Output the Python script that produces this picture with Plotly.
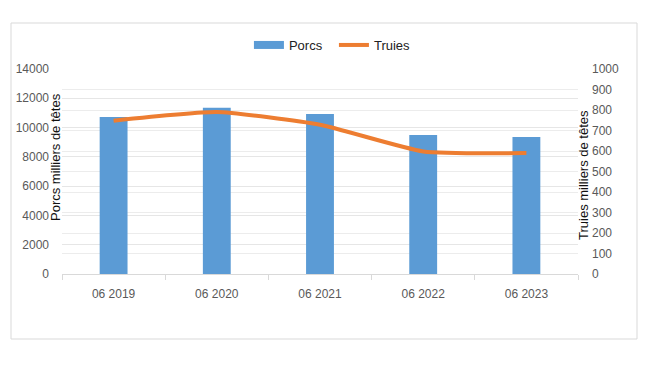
import plotly.graph_objects as go

categories = ["06 2019", "06 2020", "06 2021", "06 2022", "06 2023"]
porcs = [10720, 11350, 10930, 9500, 9360]
truies = [748, 790, 728, 598, 590]

L, R, T, B = 62, 72, 69, 92
W, H = 650, 366
pw = W - L - R
ph = H - T - B

def px_x(x):
    return (x - L) / pw

def px_y(y):
    return (H - B - y) / ph

BLUE = "#5B9BD5"
ORANGE = "#ED7D31"

fig = go.Figure()
fig.add_trace(go.Bar(x=categories, y=porcs, name="Porcs", marker_color=BLUE,
                     marker_line_width=0, yaxis="y", showlegend=False))
# legend-only entry giving Excel-like wide swatch
fig.add_trace(go.Scatter(x=[None], y=[None], name="Porcs", mode="lines",
                         line=dict(color=BLUE, width=8), yaxis="y", showlegend=True))
fig.add_trace(go.Scatter(x=categories, y=truies, name="Truies", mode="lines",
                         line=dict(color=ORANGE, width=4, shape="spline", smoothing=0.5),
                         yaxis="y2"))

font = "Liberation Sans, Arial, sans-serif"
fig.update_layout(
    width=W, height=H,
    margin=dict(l=L, r=R, t=T, b=B, autoexpand=False),
    paper_bgcolor="white", plot_bgcolor="white",
    font=dict(family=font, size=12, color="#595959"),
    bargap=0.73,
    showlegend=True,
    legend=dict(orientation="h", x=0.527, xanchor="center", y=px_y(45), yanchor="middle",
                font=dict(size=13, color="#222222"), itemwidth=30,
                entrywidth=40, entrywidthmode="pixels",
                bgcolor="rgba(0,0,0,0)"),
    xaxis=dict(type="category", showgrid=False, showline=True, linecolor="#d9d9d9",
               ticks="outside", tickson="boundaries", ticklen=5, tickcolor="#d9d9d9",
               tickfont=dict(size=12, color="#595959"), ticklabelstandoff=9),
    yaxis=dict(range=[0, 14000], dtick=2000, tickformat="d", showgrid=True, gridcolor="#e6e6e6",
               zeroline=False, showline=False, ticks="", ticklabelstandoff=12,
               tickfont=dict(size=12, color="#595959")),
    yaxis2=dict(range=[0, 1000], dtick=100, tickformat="d", overlaying="y", side="right", showgrid=True,
                gridcolor="#ececec", zeroline=False, showline=False, ticks="",
                ticklabelstandoff=13, tickfont=dict(size=12, color="#595959")),
    annotations=[
        dict(text="Porcs milliers de têtes", textangle=-90, xref="paper", yref="paper",
             x=px_x(55), y=px_y(157), showarrow=False, xanchor="center", yanchor="middle",
             font=dict(size=13, color="#111111")),
        dict(text="Truies milliers de têtes", textangle=-90, xref="paper", yref="paper",
             x=px_x(583), y=px_y(175), showarrow=False, xanchor="center", yanchor="middle",
             font=dict(size=13, color="#111111")),
    ],
    shapes=[
        dict(type="rect", xref="paper", yref="paper", x0=px_x(11), x1=px_x(637),
             y0=px_y(339), y1=px_y(23), line=dict(color="#d9d9d9", width=1),
             fillcolor="rgba(0,0,0,0)", layer="below"),
    ],
)

fig.write_html("out.html", config={"displayModeBar": False},
               post_script="document.body.style.margin='0';")
